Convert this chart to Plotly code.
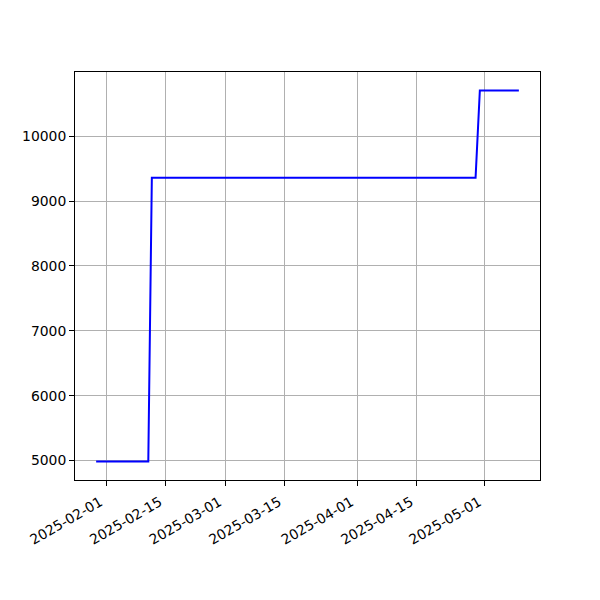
import plotly.graph_objects as go
from datetime import datetime

dates = ["2025-01-29 16:00", "2025-02-10 22:00", "2025-02-11 18:00",
         "2025-04-28 19:00", "2025-04-29 19:00", "2025-05-08 23:00"]
values = [4985, 4985, 9361, 9361, 10704, 10704]
xtick_vals = ["2025-02-01", "2025-02-15", "2025-03-01", "2025-03-15",
              "2025-04-01", "2025-04-15", "2025-05-01"]
ytick_vals = [5000, 6000, 7000, 8000, 9000, 10000]

fmt = "%Y-%m-%d %H:%M"
d0 = datetime.strptime(dates[0], fmt)
d1 = datetime.strptime(dates[-1], fmt)
pad = (d1 - d0) * 0.05
vmin, vmax = min(values), max(values)
vpad = (vmax - vmin) * 0.05

fig = go.Figure(go.Scatter(x=dates, y=values, mode="lines",
                           line=dict(color="#0000ff", width=2.0)))

axis_common = dict(showgrid=True, gridcolor="#b0b0b0", gridwidth=0.8,
                   showline=True, linecolor="black", linewidth=1.1, mirror=True,
                   ticks="outside", ticklen=4.9, tickwidth=1.1, tickcolor="black",
                   zeroline=False,
                   tickfont=dict(family="DejaVu Sans", size=13.9, color="black"))

fig.update_layout(
    width=592, height=592,
    margin=dict(l=67, r=60, t=64, b=120, autoexpand=False),
    plot_bgcolor="white", paper_bgcolor="white",
    showlegend=False,
    xaxis=dict(range=[(d0 - pad).strftime(fmt), (d1 + pad).strftime(fmt)],
               tickvals=xtick_vals, ticktext=xtick_vals, tickangle=-30,
               ticklabelshift=-6, ticklabelstandoff=3,
               automargin=False, **axis_common),
    yaxis=dict(range=[vmin - vpad, vmax + vpad], tickvals=ytick_vals,
               ticktext=[str(v) for v in ytick_vals], automargin=False,
               **axis_common),
)

fig.write_html("out.html")
